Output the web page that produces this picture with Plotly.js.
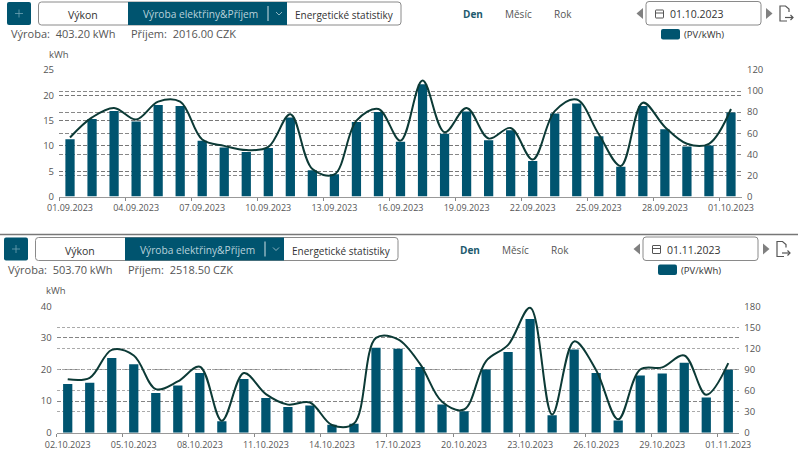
<!DOCTYPE html>
<html>
<head>
<meta charset="utf-8">
<script src="https://cdn.plot.ly/plotly-3.0.1.min.js"></script>
<style>html,body{margin:0;padding:0;background:#fff;overflow:hidden}#c{width:798px;height:457px}</style>
</head>
<body>
<div id="c"></div>
<script>
const septDays = ["01.09.2023","02.09.2023","03.09.2023","04.09.2023","05.09.2023","06.09.2023","07.09.2023","08.09.2023","09.09.2023","10.09.2023","11.09.2023","12.09.2023","13.09.2023","14.09.2023","15.09.2023","16.09.2023","17.09.2023","18.09.2023","19.09.2023","20.09.2023","21.09.2023","22.09.2023","23.09.2023","24.09.2023","25.09.2023","26.09.2023","27.09.2023","28.09.2023","29.09.2023","30.09.2023","01.10.2023"];
const septKwh = [11.3,15.3,16.9,14.8,18.1,17.9,11.0,9.7,8.8,9.6,15.6,5.2,4.4,14.7,16.7,10.8,22.2,12.4,16.8,11.1,13.1,7.0,16.4,18.4,11.9,5.9,17.9,13.3,9.9,10.1,16.6];
const septCzk = [56,75,84,73,90,90,54,48,44,47,78,26,21,72,83,53,110,61,84,55,65,35,81,92,59,29,89,66,50,50,83];

const octDays = ["02.10.2023","03.10.2023","04.10.2023","05.10.2023","06.10.2023","07.10.2023","08.10.2023","09.10.2023","10.10.2023","11.10.2023","12.10.2023","13.10.2023","14.10.2023","15.10.2023","16.10.2023","17.10.2023","18.10.2023","19.10.2023","20.10.2023","21.10.2023","22.10.2023","23.10.2023","24.10.2023","25.10.2023","26.10.2023","27.10.2023","28.10.2023","29.10.2023","30.10.2023","31.10.2023","01.11.2023"];
const octKwh = [15.4,15.8,23.6,21.7,12.6,14.9,18.9,3.6,17.0,11.0,8.1,8.6,2.5,2.8,26.9,26.6,20.8,8.9,6.8,20.0,25.5,36.0,5.5,26.3,18.9,3.9,18.1,18.7,22.1,11.1,19.9];
const octCzk = [76,78,118,110,62,73,94,17,85,55,40,43,11,13,135,133,98,44,33,102,125,178,26,130,89,19,90,93,110,54,99];

const teal = "#00546f", lineCol = "#0c3a36", txt = "#444";
const P = (x, y) => [x / 798, 1 - y / 457];
const shapes = [], annos = [];
function rr(x0, y0, x1, y1, r, fill, stroke, w) {
  const [a, b] = P(x0, y0), [c, d] = P(x1, y1), rx = r / 798, ry = r / 457;
  shapes.push({type: "path", xref: "paper", yref: "paper",
    path: `M${a + rx},${b} L${c - rx},${b} Q${c},${b} ${c},${b - ry} L${c},${d + ry} Q${c},${d} ${c - rx},${d} L${a + rx},${d} Q${a},${d} ${a},${d + ry} L${a},${b - ry} Q${a},${b} ${a + rx},${b} Z`,
    fillcolor: fill || "rgba(0,0,0,0)", line: {color: stroke || "rgba(0,0,0,0)", width: w === undefined ? 1 : w}});
}
function poly(pts, fill, stroke, w) {
  const s = pts.map((p, i) => { const q = P(p[0], p[1]); return (i ? "L" : "M") + q[0] + "," + q[1]; }).join(" ");
  shapes.push({type: "path", xref: "paper", yref: "paper", path: s + (fill ? " Z" : ""),
    fillcolor: fill || "rgba(0,0,0,0)", line: {color: stroke || "rgba(0,0,0,0)", width: w === undefined ? 1 : w}});
}
function label(text, x, y, size, color, anchor, family) {
  const q = P(x, y);
  annos.push({text, x: q[0], y: q[1], xref: "paper", yref: "paper", xanchor: anchor || "center", yanchor: "middle",
    showarrow: false, font: {family: family || "Open Sans", size, color}, borderpad: 0, borderwidth: 0});
}
function toolbar(dx, dy, date, stats, income) {
  // move button
  rr(7 + dx, 2 + dy, 31 + dx, 25 + dy, 2, teal);
  poly([[15 + dx, 13.5 + dy], [23 + dx, 13.5 + dy]], null, "#6fa3b4", 0.8);
  poly([[19 + dx, 9.5 + dy], [19 + dx, 17.5 + dy]], null, "#6fa3b4", 0.8);
  // segmented control
  rr(38.5 + dx, 2 + dy, 401 + dx, 25 + dy, 3, "#fff", "#8a8a8a", 1);
  poly([[128 + dx, 2 + dy], [287 + dx, 2 + dy], [287 + dx, 25 + dy], [128 + dx, 25 + dy]], teal);
  poly([[268 + dx, 6 + dy], [268 + dx, 21 + dy]], null, "#cfe0e6", 1);
  poly([[276 + dx, 12 + dy], [279 + dx, 15 + dy], [282 + dx, 12 + dy]], null, "#8fb4c1", 1);
  label("Výkon", 83 + dx, 15 + dy, 10.5, "#333");
  label("Výroba elektřiny&amp;Příjem", 200 + dx, 14.5 + dy, 10.2, "#b9d2db");
  label("Energetické statistiky", 344 + dx, 15 + dy, 10, "#333");
  label("Výroba:  " + stats, 11 + dx, 33.5 + dy, 11, "#555", "left");
  label("Příjem:  " + income, 131 + dx, 33.5 + dy, 11, "#555", "left");
  // period selector
  label("<b>Den</b>", 473 + dx, 14.5 + dy, 10, "#1d5a6e");
  label("Měsíc", 518 + dx, 14.5 + dy, 10, "#555");
  label("Rok", 563 + dx, 14.5 + dy, 10, "#555");
  // date picker
  poly([[643 + dx, 8 + dy], [643 + dx, 19 + dy], [636.5 + dx, 13.5 + dy]], "#808080");
  rr(646 + dx, 1.5 + dy, 761 + dx, 25 + dy, 3, "#fff", "#8a8a8a", 1);
  rr(655.5 + dx, 10 + dy, 663.5 + dx, 18 + dy, 0.5, null, "#555", 1);
  poly([[655.5 + dx, 13 + dy], [663.5 + dx, 13 + dy]], null, "#555", 1);
  label(date, 670 + dx, 14 + dy, 10.5, "#333", "left");
  poly([[766 + dx, 8 + dy], [766 + dx, 19 + dy], [772.5 + dx, 13.5 + dy]], "#808080");
  // export icon
  poly([[789 + dx, 12 + dy], [789 + dx, 9 + dy], [785.5 + dx, 6 + dy], [780 + dx, 6 + dy], [780 + dx, 21 + dy], [787 + dx, 21 + dy]], null, "#555", 1.2);
  poly([[785 + dx, 17.5 + dy], [793 + dx, 17.5 + dy]], null, "#555", 1.2);
  poly([[790.5 + dx, 15 + dy], [793 + dx, 17.5 + dy], [790.5 + dx, 20 + dy]], null, "#555", 1.2);
  // legend
  rr(661 + dx, 29 + dy, 680 + dx, 39.5 + dy, 2, teal);
  label("(PV/kWh)", 684 + dx, 34.5 + dy, 9.5, "#333", "left");
  // unit
  label("kWh", 59 + dx, 55 + dy, 9.5, "#555");
}
toolbar(0, 0, "01.10.2023", "403.20 kWh", "2016.00 CZK");
toolbar(-3, 235.5, "01.11.2023", "503.70 kWh", "2518.50 CZK");
shapes.push({type: "line", xref: "paper", yref: "paper", x0: 0, x1: 1, y0: P(0, 234.5)[1], y1: P(0, 234.5)[1], line: {color: "#777", width: 1.5}});

const tickFont = {family: "Open Sans", size: 9.5, color: "#555"};
const xAxis = (x0, x1, anchor) => ({
  type: "category", domain: [x0 / 798, x1 / 798], range: [-0.5, 30.5], anchor,
  tickmode: "linear", tick0: 0, dtick: 3, tickson: "boundaries", ticks: "outside", ticklen: 3, tickcolor: "#888",
  showline: true, linecolor: "#999", linewidth: 1, showgrid: false, zeroline: false, tickfont: {...tickFont, size: 9}, tickangle: 0,
  ticklabelstandoff: 3
});
const yAxis = (top, bot, max, dt, side, anchor, over, grid, w, dash) => ({
  domain: [1 - bot / 457, 1 - top / 457], range: [0, max], dtick: dt, tick0: 0, side, anchor, overlaying: over,
  showline: false, ticks: "", zeroline: false, showgrid: true, gridcolor: grid, gridwidth: w, griddash: dash, tickfont: tickFont,
  ticklabelstandoff: 4
});
const bar = (x, y, xa, ya) => ({type: "bar", x, y, xaxis: xa, yaxis: ya, marker: {color: teal, line: {width: 0}}});
const line = (x, y, xa, ya) => ({type: "scatter", mode: "lines", x, y, xaxis: xa, yaxis: ya,
  line: {color: lineCol, width: 2, shape: "spline", smoothing: 1}});

const data = [
  bar(septDays, septKwh, "x", "y"),
  line(septDays, septCzk, "x", "y2"),
  bar(octDays, octKwh, "x2", "y3"),
  line(octDays, octCzk, "x2", "y4")
];
const layout = {
  width: 798, height: 457, margin: {l: 0, r: 0, t: 0, b: 0}, paper_bgcolor: "#fff", plot_bgcolor: "rgba(0,0,0,0)",
  showlegend: false, bargap: 0.58, hovermode: false,
  xaxis: xAxis(59, 742, "y"),
  yaxis: yAxis(70, 196.5, 25, 5, "left", "x", undefined, "#777", 1, "4px,2px"),
  yaxis2: yAxis(70, 196.5, 120, 20, "right", "x", "y", "#888", 1, "4px,2px"),
  xaxis2: xAxis(56.7, 739.3, "y3"),
  yaxis3: yAxis(306.3, 432.7, 40, 10, "left", "x2", undefined, "#666", 0.8, "4px,2px"),
  yaxis4: yAxis(306.3, 432.7, 180, 30, "right", "x2", "y3", "#aaa", 1.3, "3px,2px"),
  shapes, annotations: annos
};
Plotly.newPlot("c", data, layout, {displayModeBar: false, staticPlot: true});
</script>
</body>
</html>
